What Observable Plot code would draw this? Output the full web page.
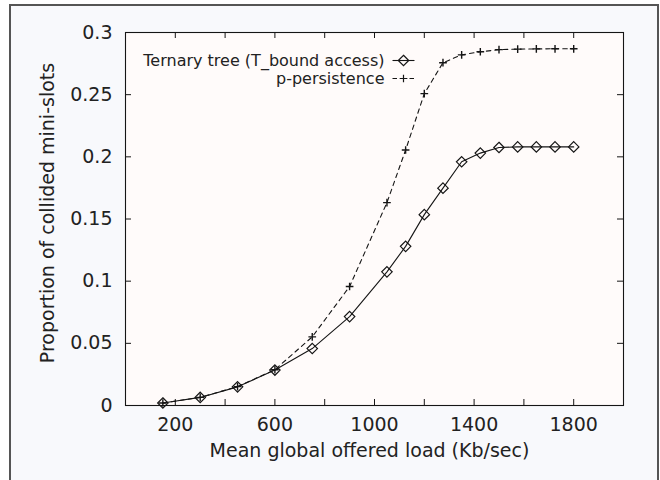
<!DOCTYPE html>
<html>
<head>
<meta charset="utf-8">
<script src="https://cdn.jsdelivr.net/npm/d3@7"></script>
<script src="https://cdn.jsdelivr.net/npm/@observablehq/plot@0.6"></script>
<style>
  body { margin: 0; background: #fff; }
  #page { position: relative; width: 660px; height: 480px; overflow: hidden; }
  #panel { position: absolute; left: 9px; top: 4px; width: 646px; height: 500px;
           border: 2px solid #555; border-bottom: none; background: #f8f9fc; }
  #chart { position: absolute; left: 0; top: 0; }
</style>
</head>
<body>
<div id="page"><div id="panel"></div><div id="chart"></div></div>
<script>
// Offered load (Kb/sec) for each simulation run
const loads = [150, 300, 450, 600, 750, 900, 1050, 1125, 1200, 1275, 1350, 1425, 1500, 1575, 1650, 1725, 1800];
// Proportion of collided mini-slots, ternary tree with T_bound access
const ternary = [0.002, 0.0065, 0.015, 0.0285, 0.0458, 0.0715, 0.1075, 0.128, 0.1535, 0.1748, 0.196, 0.203, 0.2075, 0.208, 0.208, 0.208, 0.208];
// Proportion of collided mini-slots, p-persistence
const persistence = [0.002, 0.0065, 0.0152, 0.0288, 0.0552, 0.0957, 0.1632, 0.2055, 0.2508, 0.2757, 0.282, 0.2845, 0.2862, 0.2866, 0.2868, 0.2869, 0.2869];

const seriesNames = ["Ternary tree (T_bound access)", "p-persistence"];
const xTickValues = [200, 400, 600, 800, 1000, 1200, 1400, 1600, 1800];
const xTickLabels = [200, 600, 1000, 1400, 1800];
const yTickValues = [0, 0.05, 0.1, 0.15, 0.2, 0.25, 0.3];
const xTitle = "Mean global offered load (Kb/sec)";
const yTitle = "Proportion of collided mini-slots";

const ternaryRows = loads.map((load, i) => ({load, value: ternary[i]}));
const persistenceRows = loads.map((load, i) => ({load, value: persistence[i]}));

const width = 660, height = 480;
const margin = {top: 32, right: 37, bottom: 75, left: 125};
const innerW = width - margin.left - margin.right;
const innerH = height - margin.top - margin.bottom;
const tickLen = 6;
const ink = "#151515";
const textInk = "#222";
const dash = "4.5,4";

// short horizontal stroke used as the legend line sample
const legendStroke = {draw(context) { context.moveTo(-11, 0); context.lineTo(11, 0); }};

// one legend row: label, line sample and point symbol
function legendRow(name, rowOffset, symbol, r, dashed) {
  const at = {frameAnchor: "top-left", dy: rowOffset};
  return [
    Plot.text([name], {...at, dx: 259, textAnchor: "end", lineAnchor: "middle", fontSize: 16, fill: textInk}),
    Plot.dot([name], {...at, dx: 278, symbol: legendStroke, r: 4, stroke: ink, strokeWidth: 1.1,
                      strokeDasharray: dashed ? dash : null}),
    Plot.dot([name], {...at, dx: 278, symbol, r, stroke: ink, strokeWidth: 1.2, fill: "none"})
  ];
}

const chart = Plot.plot({
  width, height,
  marginTop: margin.top, marginRight: margin.right,
  marginBottom: margin.bottom, marginLeft: margin.left,
  style: {background: "transparent", fontFamily: "'DejaVu Sans', sans-serif", color: textInk},
  x: {domain: [0, 2000]},
  y: {domain: [0, 0.3]},
  marks: [
    Plot.frame({fill: "#fffbfa"}),
    // inward ticks on all four sides
    Plot.ruleX(xTickValues, {x: d => d, insetTop: innerH - tickLen, stroke: ink}),
    Plot.ruleX(xTickValues, {x: d => d, insetBottom: innerH - tickLen, stroke: ink}),
    Plot.ruleY(yTickValues.slice(1, -1), {y: d => d, insetRight: innerW - tickLen, stroke: ink}),
    Plot.ruleY(yTickValues.slice(1, -1), {y: d => d, insetLeft: innerW - tickLen, stroke: ink}),
    Plot.axisX({ticks: xTickLabels, tickSize: 0, tickPadding: 12, fontSize: 19, label: null, fill: textInk,
                tickFormat: d => String(d)}),
    Plot.axisY({ticks: yTickValues, tickSize: 0, tickPadding: 13, fontSize: 19, label: null, fill: textInk,
                tickFormat: d => String(d)}),
    Plot.text([xTitle], {frameAnchor: "bottom", dy: 45, dx: -5, fontSize: 19, lineAnchor: "middle",
                         textAnchor: "middle", fill: textInk}),
    Plot.text([yTitle], {frameAnchor: "left", rotate: -90, dx: -78, dy: -6, fontSize: 19, lineAnchor: "middle",
                         textAnchor: "middle", fill: textInk}),
    // series
    Plot.line(ternaryRows, {x: "load", y: "value", stroke: ink, strokeWidth: 1.1}),
    Plot.line(persistenceRows, {x: "load", y: "value", stroke: ink, strokeWidth: 1.1, strokeDasharray: dash}),
    Plot.dot(ternaryRows, {x: "load", y: "value", symbol: "diamond2", r: 4.7, stroke: ink, strokeWidth: 1.2, fill: "none"}),
    Plot.dot(persistenceRows, {x: "load", y: "value", symbol: "plus", r: 2.6, stroke: ink, strokeWidth: 1.4}),
    // legend
    ...legendRow(seriesNames[0], 28, "diamond2", 4.7, false),
    ...legendRow(seriesNames[1], 46, "plus", 2.6, true),
    Plot.frame({stroke: ink, strokeWidth: 1.1})
  ]
});
document.getElementById("chart").appendChild(chart);
</script>
</body>
</html>
